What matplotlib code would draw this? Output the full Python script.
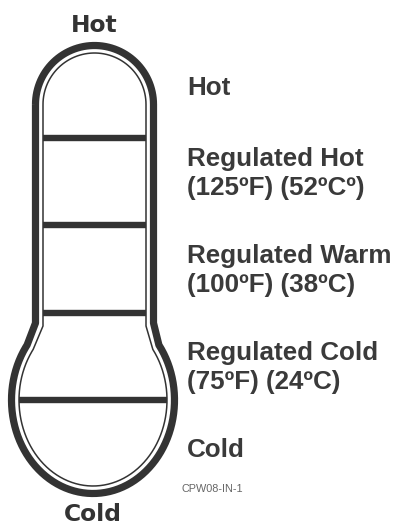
import matplotlib.pyplot as plt
from matplotlib.path import Path
from matplotlib.patches import PathPatch
import numpy as np

# zones from top to bottom
zones = ["Hot", "Regulated Hot", "Regulated Warm", "Regulated Cold", "Cold"]
temps = ["", "(125ºF) (52ºCº)", "(100ºF) (38ºC)", "(75ºF) (24ºC)", ""]
top_label = "Hot"
bottom_label = "Cold"
code = "CPW08-IN-1"

ink = "#333333"

fig = plt.figure(figsize=(4, 5.27), dpi=100)
ax = fig.add_axes([0, 0, 1, 1])
ax.set_xlim(0, 400)
ax.set_ylim(527, 0)
ax.axis("off")


def outline(off):
    # thermometer outline in pixel coords, shrunk inward by off
    cx, cy, r = 94.5, 104.5, 59 - off
    ex, ey, a, b = 93, 400, 81.5 - off, 93.5 - off
    t = np.linspace(np.pi, 0, 60)
    pts = list(zip(cx + r * np.cos(t), cy - r * np.sin(t)))
    pts.append((cx + r, 323 + off * 0.4))
    p0 = np.arcsin(55 / 93.5)
    p = np.linspace(p0, -np.pi - p0, 160)
    pts += list(zip(ex + a * np.cos(p), ey - b * np.sin(p)))
    pts.append((cx - r, 323 + off * 0.4))
    pts.append(pts[0])
    return Path(pts)


ax.add_patch(PathPatch(outline(0), fill=False, ec=ink, lw=5.2, joinstyle="round"))
ax.add_patch(PathPatch(outline(7.5), fill=False, ec=ink, lw=1.1, joinstyle="round"))

# dividers between zones
tube_half = 59 - 7.5
for y in [138, 225, 313]:
    ax.plot([94.5 - tube_half, 94.5 + tube_half], [y, y], color=ink, lw=4.6,
            solid_capstyle="butt")
ax.plot([93 - 74, 93 + 74], [400, 400], color=ink, lw=4.6, solid_capstyle="butt")

# end labels
ax.text(94, 32, top_label, ha="center", va="baseline", fontsize=16.8,
        fontweight="bold", family="DejaVu Sans", color=ink)
ax.text(93, 521, bottom_label, ha="center", va="baseline", fontsize=16.8,
        fontweight="bold", family="DejaVu Sans", color=ink)

# zone labels on the right
name_y = [95, 166, 263, 360, 457]
for name, temp, y in zip(zones, temps, name_y):
    ax.text(187, y, name, ha="left", va="baseline", fontsize=18.7,
            fontweight="bold", family="Liberation Sans", color="#3a3a3a")
    if temp:
        ax.text(187, y + 29, temp, ha="left", va="baseline", fontsize=18.7,
                fontweight="bold", family="Liberation Sans", color="#3a3a3a")

ax.text(182, 492, code, ha="left", va="baseline", fontsize=7.8,
        family="Liberation Sans", color="#666666")

plt.savefig("out.png", dpi=100)
